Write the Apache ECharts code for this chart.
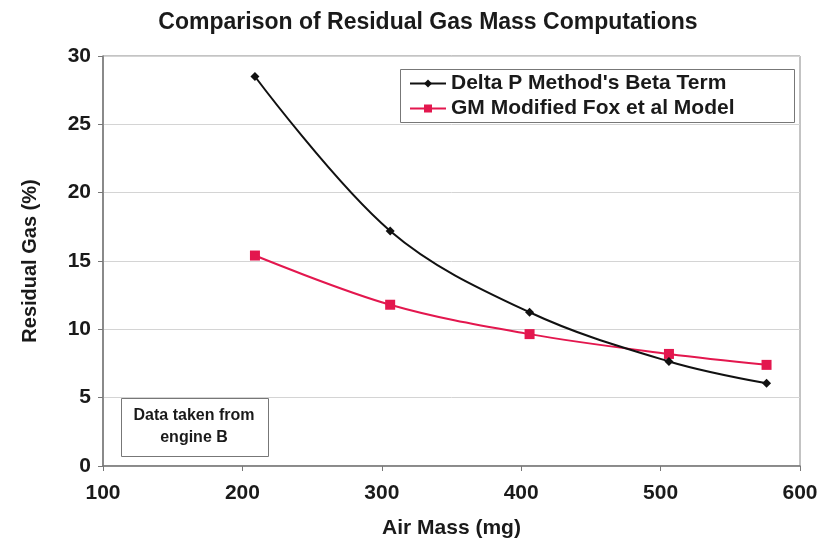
<!DOCTYPE html>
<html>
<head>
<meta charset="utf-8">
<script src="https://cdn.jsdelivr.net/npm/echarts@6/dist/echarts.min.js"></script>
<style>html,body{margin:0;padding:0;background:#fff;}#c{width:822px;height:548px;}</style>
</head>
<body>
<div id="c"></div>
<script>
const airMass = [209, 306, 406, 506, 576];
const deltaP = [28.5, 17.2, 11.25, 7.65, 6.05];
const gmFox = [15.4, 11.8, 9.65, 8.2, 7.4];
const seriesNames = ["Delta P Method's Beta Term", "GM Modified Fox et al Model"];
const titleText = "Comparison of Residual Gas Mass Computations";
const xTitle = "Air Mass (mg)";
const yTitle = "Residual Gas (%)";
const noteText = "Data taken from\nengine B";

const font = "Liberation Sans, Arial, sans-serif";
const chart = echarts.init(document.getElementById('c'));
chart.setOption({
  backgroundColor: '#fff',
  animation: false,
  title: {
    text: titleText, left: 423, textAlign: 'center', top: 6,
    textStyle: {fontFamily: font, fontSize: 23, fontWeight: 'bold', color: '#1a1a1a'}
  },
  grid: {left: 103, right: 22, top: 56, bottom: 82, show: true, borderColor: '#888', borderWidth: 1},
  legend: {
    left: 404, top: 68, orient: 'vertical', itemGap: 4, itemWidth: 36, itemHeight: 10,
    textStyle: {fontFamily: font, fontSize: 21, fontWeight: 'bold', color: '#1a1a1a'},
    data: seriesNames
  },
  xAxis: {
    type: 'value', min: 100, max: 600, interval: 100,
    name: xTitle, nameLocation: 'middle', nameGap: 52,
    nameTextStyle: {fontFamily: font, fontSize: 21, fontWeight: 'bold', color: '#1a1a1a'},
    axisLine: {show: true, lineStyle: {color: '#777', width: 1.5}},
    axisTick: {show: true, length: 5, lineStyle: {color: '#777'}},
    axisLabel: {fontFamily: font, fontSize: 21, fontWeight: 'bold', color: '#1a1a1a', margin: 17},
    splitLine: {show: false}
  },
  yAxis: {
    type: 'value', min: 0, max: 30, interval: 5,
    name: yTitle, nameLocation: 'middle', nameGap: 63, nameRotate: 90,
    nameTextStyle: {fontFamily: font, fontSize: 20, fontWeight: 'bold', color: '#1a1a1a'},
    axisLine: {show: true, lineStyle: {color: '#777', width: 1.5}},
    axisTick: {show: true, length: 5, lineStyle: {color: '#777'}},
    axisLabel: {fontFamily: font, fontSize: 21, fontWeight: 'bold', color: '#1a1a1a', margin: 12},
    splitLine: {show: true, lineStyle: {color: '#d4d4d4', width: 1}}
  },
  graphic: [
    {type: 'rect', left: 398, top: 67, shape: {width: 394, height: 53},
     style: {fill: 'none', stroke: '#777', lineWidth: 1}, z: 100},
    {type: 'rect', left: 121, top: 398, shape: {width: 147, height: 58},
     style: {fill: '#fff', stroke: '#777', lineWidth: 1}, z: 100},
    {type: 'text', x: 194, y: 405, z: 101,
     style: {text: noteText, fontFamily: font, fontSize: 16, fontWeight: 'bold', fill: '#1a1a1a', align: 'center', verticalAlign: 'top', lineHeight: 22}}
  ],
  series: [
    {name: seriesNames[0], type: 'line', smooth: 0.35,
     data: airMass.map((x, i) => [x, deltaP[i]]),
     symbol: 'diamond', symbolSize: 9,
     lineStyle: {color: '#111', width: 2}, itemStyle: {color: '#111'}, z: 3},
    {name: seriesNames[1], type: 'line', smooth: 0.35,
     data: airMass.map((x, i) => [x, gmFox[i]]),
     symbol: 'rect', symbolSize: 10,
     lineStyle: {color: '#e3174e', width: 2}, itemStyle: {color: '#e3174e'}, z: 2}
  ]
});
</script>
</body>
</html>
